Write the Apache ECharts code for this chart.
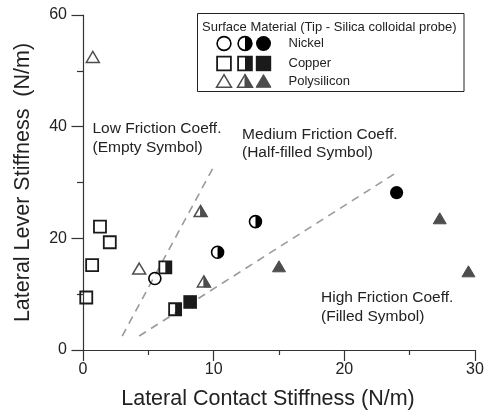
<!DOCTYPE html>
<html>
<head>
<meta charset="utf-8">
<script src="https://cdn.jsdelivr.net/npm/echarts@6/dist/echarts.min.js"></script>
<style>
html,body{margin:0;padding:0;background:#fff;}
#chart{width:485px;height:414px;}
</style>
</head>
<body>
<div id="chart"></div>
<script>
// ---- data ----
const xTicks = [0, 10, 20, 30];
const yTicks = [0, 20, 40, 60];
const nickelEmpty  = [[5.5, 12.8]];
const nickelHalf   = [[10.3, 17.5], [13.2, 23.0]];
const nickelFilled = [[24.0, 28.2]];
const copperEmpty  = [[0.25, 9.4], [0.7, 15.2], [1.3, 22.1], [2.05, 19.3]];
const copperHalf   = [[6.3, 14.8], [7.05, 7.3]];
const copperFilled = [[8.2, 8.6]];
const polyEmpty    = [[0.75, 52.4], [4.3, 14.5]];
const polyHalf     = [[9.0, 24.8], [9.25, 12.2]];
const polyFilled   = [[15.0, 14.9], [27.3, 23.5], [29.5, 14.0]];
const lowLine      = [[3.0, 2.5], [9.95, 32.6]];
const medLine      = [[4.3, 2.5], [24.0, 31.8]];

const FONT = '"Liberation Sans", Arial, sans-serif';
const COLORS = { circle: '#000000', square: '#1a1a1a', triangle: '#4d4d4d' };

function drawSymbol(shape, mode, cx, cy, k) {
  const c = COLORS[shape];
  const out = [];
  if (shape === 'circle') {
    const r = 6 * k;
    if (mode === 'filled') {
      out.push({ type: 'circle', shape: { cx, cy, r: r + 0.6 }, style: { fill: c } });
    } else {
      out.push({ type: 'circle', shape: { cx, cy, r }, style: { fill: 'none', stroke: c, lineWidth: 1.6 } });
      if (mode === 'half') {
        out.push({ type: 'sector', shape: { cx, cy, r0: 0, r, startAngle: -Math.PI / 2, endAngle: Math.PI / 2, clockwise: true }, style: { fill: c } });
      }
    }
  } else if (shape === 'square') {
    const h = 6 * k;
    if (mode === 'filled') {
      out.push({ type: 'rect', shape: { x: cx - h - 0.8, y: cy - h - 0.8, width: 2 * h + 1.6, height: 2 * h + 1.6 }, style: { fill: c } });
    } else {
      out.push({ type: 'rect', shape: { x: cx - h, y: cy - h, width: 2 * h, height: 2 * h }, style: { fill: 'none', stroke: c, lineWidth: 1.8 } });
      if (mode === 'half') {
        out.push({ type: 'rect', shape: { x: cx, y: cy - h, width: h, height: 2 * h }, style: { fill: c } });
      }
    }
  } else {
    const w = 6.5 * k, top = 6 * k, bot = 5 * k;
    const pts = [[cx, cy - top], [cx + w, cy + bot], [cx - w, cy + bot]];
    if (mode === 'filled') {
      out.push({ type: 'polygon', shape: { points: pts }, style: { fill: c, stroke: c, lineWidth: 1 } });
    } else {
      out.push({ type: 'polygon', shape: { points: pts }, style: { fill: 'none', stroke: c, lineWidth: 1.5 } });
      if (mode === 'half') {
        out.push({ type: 'polygon', shape: { points: [[cx, cy - top], [cx + w, cy + bot], [cx, cy + bot]] }, style: { fill: c, stroke: c, lineWidth: 1 } });
      }
    }
  }
  return out;
}

function markerSeries(data, shape, mode) {
  return {
    type: 'custom',
    data: data,
    encode: { x: 0, y: 1 },
    z: 5,
    renderItem: function (params, api) {
      const p = api.coord([api.value(0), api.value(1)]);
      return { type: 'group', children: drawSymbol(shape, mode, p[0], p[1], 1) };
    }
  };
}

function dashSeries(data) {
  return {
    type: 'line', data: data, symbol: 'none', z: 2, silent: true,
    lineStyle: { color: '#9a9a9a', width: 1.6, type: [8, 6] }
  };
}

// legend graphics
const legendChildren = [
  { type: 'rect', shape: { x: 197.5, y: 13.5, width: 266.5, height: 78 }, style: { fill: '#fff', stroke: '#222', lineWidth: 1 } },
  { type: 'text', x: 202, y: 27.5, style: { text: 'Surface Material (Tip - Silica colloidal probe)', font: '13px ' + FONT, fill: '#222', verticalAlign: 'middle' } }
];
const legendRows = [['circle', 'Nickel', 43.5], ['square', 'Copper', 63.5], ['triangle', 'Polysilicon', 81.5]];
legendRows.forEach(function (r) {
  ['empty', 'half', 'filled'].forEach(function (m, i) {
    drawSymbol(r[0], m, [224, 245, 263.5][i], r[2], 1.15).forEach(function (e) { legendChildren.push(e); });
  });
  legendChildren.push({ type: 'text', x: 288.5, y: r[2], style: { text: r[1], font: '13px ' + FONT, fill: '#222', verticalAlign: 'middle' } });
});

const chart = echarts.init(document.getElementById('chart'), null, { renderer: 'canvas' });
chart.setOption({
  animation: false,
  backgroundColor: '#fff',
  grid: { left: 83, right: 10, top: 15, bottom: 64, containLabel: false, outerBoundsMode: 'none' },
  xAxis: {
    type: 'value', min: xTicks[0], max: xTicks[xTicks.length - 1], interval: xTicks[1] - xTicks[0],
    name: 'Lateral Contact Stiffness (N/m)', nameLocation: 'middle', nameGap: 38,
    nameTextStyle: { fontSize: 21.5, fontFamily: FONT, color: '#222', padding: [0, 22, 0, 0] },
    axisLine: { show: true, onZero: false, lineStyle: { color: '#333', width: 1.2 } },
    axisTick: { show: true, inside: false, length: 11, lineStyle: { color: '#333', width: 1.2 } },
    minorTick: { show: true, splitNumber: 2, length: 5, lineStyle: { color: '#333', width: 1.2 } },
    splitLine: { show: false },
    axisLabel: { fontSize: 16, fontFamily: FONT, color: '#222', margin: 12 }
  },
  yAxis: {
    type: 'value', min: yTicks[0], max: yTicks[yTicks.length - 1], interval: yTicks[1] - yTicks[0],
    name: 'Lateral Lever Stiffness  (N/m)', nameLocation: 'middle', nameGap: 49,
    nameTextStyle: { fontSize: 21.5, fontFamily: FONT, color: '#222' },
    axisLine: { show: true, onZero: false, lineStyle: { color: '#333', width: 1.2 } },
    axisTick: { show: true, inside: false, length: 11.5, lineStyle: { color: '#333', width: 1.2 } },
    minorTick: { show: true, splitNumber: 2, length: 6, lineStyle: { color: '#333', width: 1.2 } },
    splitLine: { show: false },
    axisLabel: { fontSize: 16, fontFamily: FONT, color: '#222', margin: 16 }
  },
  graphic: [
    { type: 'text', x: 92.5, y: 119.5, z: 10, style: { text: 'Low Friction Coeff.\n(Empty Symbol)', font: '15.5px ' + FONT, lineHeight: 18.5, fill: '#222', verticalAlign: 'top' } },
    { type: 'text', x: 242, y: 125, z: 10, style: { text: 'Medium Friction Coeff.\n(Half-filled Symbol)', font: '15.5px ' + FONT, lineHeight: 18.5, fill: '#222', verticalAlign: 'top' } },
    { type: 'text', x: 321, y: 288.5, z: 10, style: { text: 'High Friction Coeff.\n(Filled Symbol)', font: '15.5px ' + FONT, lineHeight: 18.5, fill: '#222', verticalAlign: 'top' } },
    { type: 'group', z: 20, children: legendChildren }
  ],
  series: [
    dashSeries(lowLine), dashSeries(medLine),
    markerSeries(nickelEmpty, 'circle', 'empty'),
    markerSeries(nickelHalf, 'circle', 'half'),
    markerSeries(nickelFilled, 'circle', 'filled'),
    markerSeries(copperEmpty, 'square', 'empty'),
    markerSeries(copperHalf, 'square', 'half'),
    markerSeries(copperFilled, 'square', 'filled'),
    markerSeries(polyEmpty, 'triangle', 'empty'),
    markerSeries(polyHalf, 'triangle', 'half'),
    markerSeries(polyFilled, 'triangle', 'filled')
  ]
});
</script>
</body>
</html>
